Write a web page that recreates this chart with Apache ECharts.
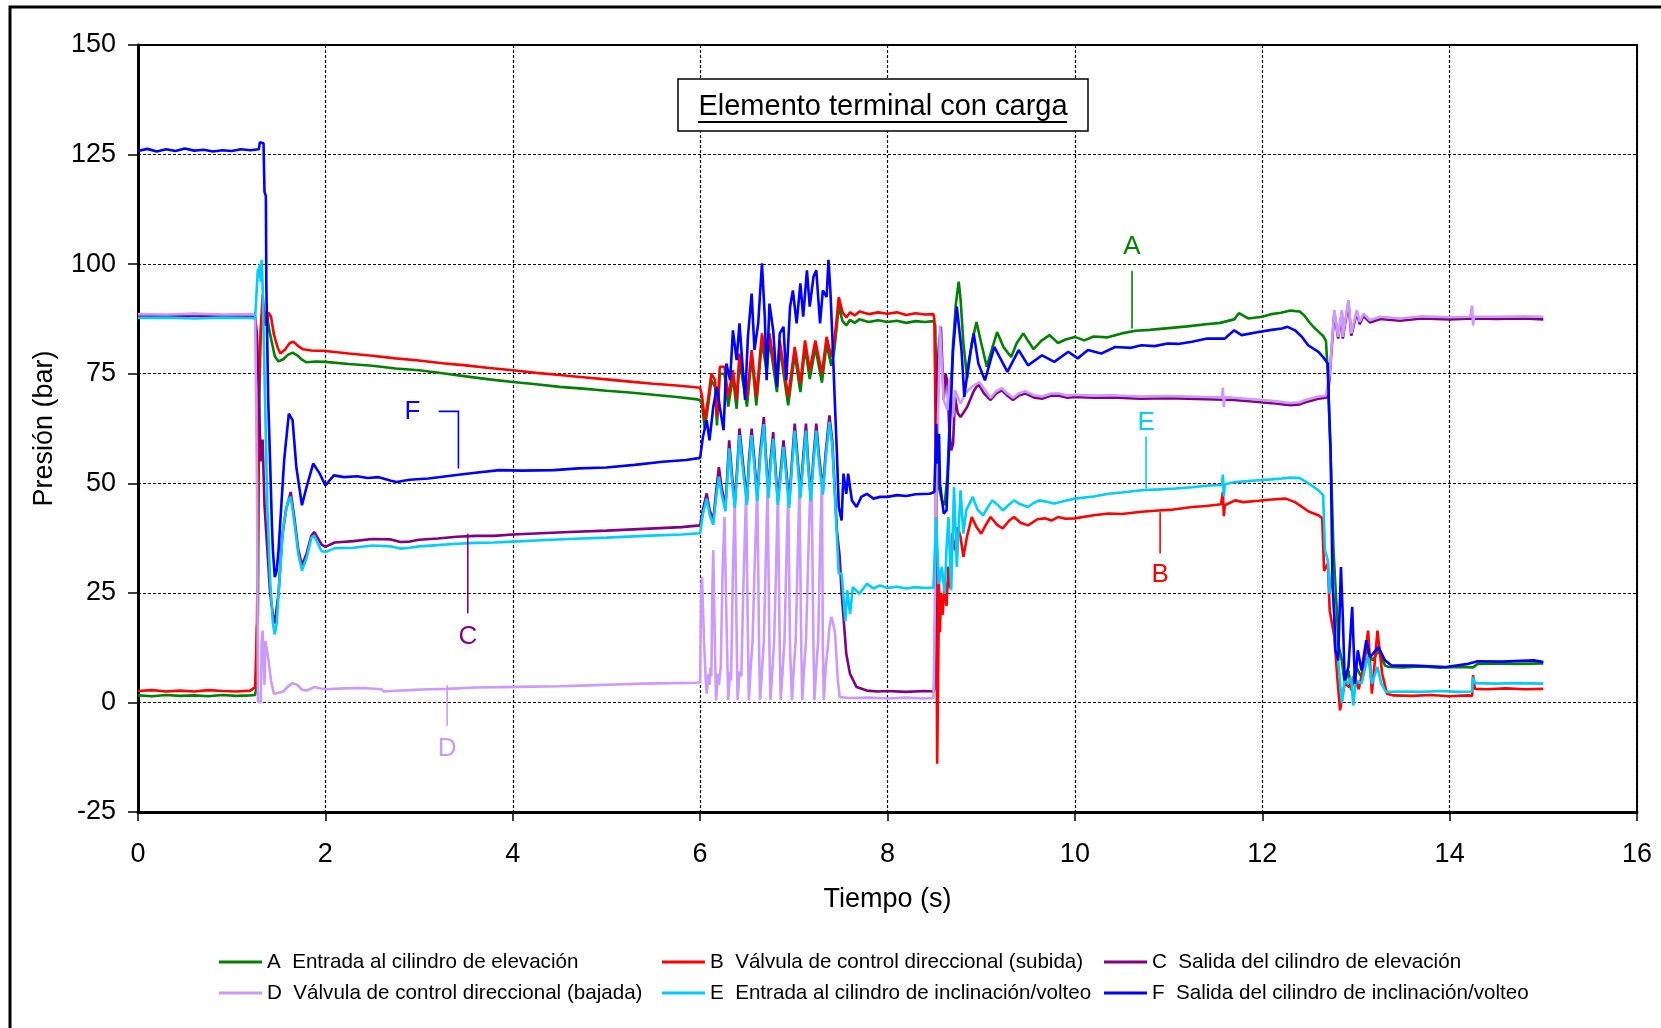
<!DOCTYPE html>
<html>
<head>
<meta charset="utf-8">
<script src="https://cdn.jsdelivr.net/npm/echarts@6/dist/echarts.min.js"></script>
<style>
  html, body { margin: 0; padding: 0; background: #fff; }
  #chart { width: 1661px; height: 1028px; }
</style>
</head>
<body>
<div id="chart"></div>
<script>
// Presión medida en seis puntos del circuito hidráulico, [tiempo (s), presión (bar)]
const serieNames = [
  'A  Entrada al cilindro de elevación',
  'B  Válvula de control direccional (subida)',
  'C  Salida del cilindro de elevación',
  'D  Válvula de control direccional (bajada)',
  'E  Entrada al cilindro de inclinación/volteo',
  'F  Salida del cilindro de inclinación/volteo'
];
const serieColors = ['#008000', '#ff0000', '#800080', '#cc99ff', '#00ccff', '#0000ff'];

const xTicks = { min: 0, max: 16, step: 2 };
const yTicks = { min: -25, max: 150, step: 25 };

const presionA = [
  [0,1.6],[0.15,1.4],[0.3,1.7],[0.45,1.5],[0.6,1.6],[0.75,1.4],[0.9,1.7],[1.05,1.5],[1.2,1.6],[1.25,1.7],
  [1.26,3],[1.27,17],[1.28,20],[1.29,60],[1.3,80],[1.32,88],[1.34,90],[1.36,86],[1.38,88],[1.4,85],[1.43,82],
  [1.46,79],[1.5,77.8],[1.55,78.3],[1.6,79.3],[1.65,79.8],[1.7,79.2],[1.75,78.2],[1.8,77.6],[1.9,77.8],[2.0,77.7],
  [2.25,77.2],[2.5,76.8],[2.75,76.2],[3.0,75.8],[3.25,75.1],[3.5,74.4],[3.75,73.7],[4.0,73.1],[4.25,72.6],[4.5,72.0],
  [4.75,71.6],[5.0,71.1],[5.25,70.7],[5.5,70.2],[5.75,69.7],[5.95,69.2],
  [6.0,69.0],[6.02,68],[6.05,62.5],[6.09,68.5],[6.12,73.5],[6.16,72],[6.18,63.2],[6.21,75],[6.26,75],[6.3,67.5],
  [6.35,74.3],[6.39,67],[6.42,78],[6.5,67.5],[6.55,79],[6.6,67.8],[6.66,82.5],[6.71,75.5],[6.74,82.8],[6.82,70.8],
  [6.85,81],[6.94,67.8],[7.01,79.5],[7.07,70.8],[7.12,81],[7.17,73.8],[7.23,81],[7.3,73],[7.35,81.8],[7.4,76.8],
  [7.43,80],[7.46,86],[7.48,90.5],[7.52,87],[7.56,86],[7.6,87.3],[7.65,86.6],[7.7,87.4],[7.8,86.8],[7.9,87.2],
  [8.0,86.8],[8.1,87.1],[8.2,86.6],[8.3,87],[8.4,86.8],[8.49,87],
  [8.51,86],[8.53,60],[8.55,49],[8.58,46],[8.61,45],[8.64,52],[8.67,68],[8.7,82],[8.73,91],[8.76,96],[8.78,92],
  [8.81,82],[8.85,74],[8.9,82],[8.95,86.8],[9.0,82],[9.06,76.6],[9.12,81],[9.17,84.5],[9.24,81],[9.32,78.8],
  [9.38,82],[9.45,84.2],[9.5,82.5],[9.56,80.6],[9.64,82.5],[9.73,83.8],[9.82,82],[9.9,82.8],[10.0,83.4],[10.1,82.6],
  [10.2,83.5],[10.35,83.3],[10.5,84.2],[10.65,84.8],[10.8,85.0],[11.0,85.4],[11.2,85.8],[11.4,86.3],[11.55,86.6],
  [11.7,87.4],[11.75,88.8],[11.85,87.6],[12.0,88.0],[12.1,88.6],[12.2,88.9],[12.3,89.4],[12.4,89.2],[12.45,88.3],
  [12.5,86.8],[12.55,85.6],[12.6,84.6],[12.65,83.6],[12.68,82.5],[12.7,75],[12.72,62],[12.74,50],[12.76,35],
  [12.78,27],[12.8,19.5],[12.81,13.5],[12.85,9.6],[12.88,4.3],[12.92,7.3],[12.95,2.7],[13.0,8.1],[13.06,5.8],
  [13.11,11.9],[13.18,9.6],[13.24,11.9],[13.31,8.4],[13.35,8.1],[13.5,8.0],[13.7,8.2],[13.9,7.9],[14.1,8.1],
  [14.25,8.0],[14.3,8.8],[14.5,8.9],[14.7,8.8],[15.0,8.9]
];

const presionB = [
  [0,2.6],[0.15,2.8],[0.3,2.5],[0.45,2.7],[0.6,2.5],[0.75,2.8],[0.9,2.6],[1.05,2.5],[1.2,2.7],[1.25,3.5],
  [1.26,10],[1.27,18],[1.28,40],[1.29,70],[1.3,75],[1.31,85],[1.33,93],[1.35,88],[1.37,86],[1.39,89],[1.42,88],
  [1.45,84],[1.49,81],[1.52,79.6],[1.57,80.5],[1.62,82],[1.66,82.3],[1.71,81.3],[1.76,80.6],[1.85,80.3],[2.0,80.2],
  [2.25,79.6],[2.5,79.1],[2.75,78.5],[3.0,78.0],[3.25,77.4],[3.5,76.9],[3.75,76.3],[4.0,75.8],[4.25,75.2],[4.5,74.7],
  [4.75,74.2],[5.0,73.7],[5.25,73.2],[5.5,72.7],[5.75,72.3],[5.95,71.9],
  [6.0,71.8],[6.02,70],[6.05,64.4],[6.09,70],[6.12,75],[6.16,73.5],[6.18,65.1],[6.21,76.6],[6.26,76.6],[6.3,69.7],
  [6.35,75.8],[6.39,69],[6.42,79.6],[6.5,69.7],[6.55,80.4],[6.6,69.7],[6.66,84.2],[6.71,77.3],[6.74,84.2],[6.82,72.8],
  [6.85,82.6],[6.94,69.7],[7.01,81.1],[7.07,72.8],[7.12,82.6],[7.17,75.8],[7.23,82.6],[7.3,75.0],[7.35,83.4],[7.4,78.8],
  [7.43,82],[7.46,88],[7.48,92.5],[7.52,89],[7.56,87.8],[7.6,89],[7.65,88.3],[7.7,89.2],[7.8,88.6],[7.9,89.0],
  [8.0,88.7],[8.1,89],[8.2,88.4],[8.3,88.8],[8.4,88.5],[8.49,88.6],
  [8.5,87.5],[8.51,70],[8.52,40],[8.53,-14],[8.54,5],[8.55,27],[8.56,16],[8.57,25],[8.59,20],[8.61,28],[8.63,22],
  [8.65,31],[8.67,26],[8.69,38.6],[8.72,34.7],[8.75,40],[8.78,37.7],[8.81,33.2],[8.85,38],[8.9,42.3],[8.95,40],
  [9.0,38.5],[9.05,40.5],[9.1,42.3],[9.17,40.5],[9.23,39.7],[9.3,41.5],[9.35,42.3],[9.42,41],[9.5,40.4],[9.6,41.8],
  [9.68,42],[9.75,41.5],[9.82,42.3],[9.9,41.9],[10.0,42],[10.2,42.7],[10.36,43.1],[10.5,43],[10.71,43.5],[10.89,43.8],
  [11.05,44],[11.25,44.6],[11.4,44.8],[11.56,45.2],[11.58,48],[11.59,42.5],[11.6,45],[11.71,46.1],[11.8,45.7],
  [11.96,46],[12.1,46.3],[12.25,46.5],[12.35,45.7],[12.5,43.5],[12.6,42.7],[12.64,42],[12.66,30],[12.7,31.7],
  [12.72,21],[12.77,14.9],[12.8,6],[12.83,-1.8],[12.88,4.3],[12.93,3.5],[12.98,6],[13.03,3],[13.08,8],[13.13,16.4],
  [13.17,2],[13.2,9],[13.23,16.4],[13.28,6.6],[13.33,2],[13.4,1.6],[13.6,1.5],[13.8,1.7],[14.0,1.4],[14.2,1.6],
  [14.24,1.5],[14.25,6.2],[14.27,3.1],[14.4,3.0],[14.6,3.2],[14.8,3.0],[15.0,3.1]
];

const presionC = [
  [0,88.3],[0.3,88.2],[0.6,88.3],[0.9,88.2],[1.2,88.3],[1.25,88],[1.27,84],[1.29,70],[1.31,55],[1.33,60],[1.35,45],
  [1.38,35],[1.41,25],[1.44,20],[1.46,18],[1.5,25],[1.54,38],[1.58,44],[1.63,48],[1.67,42],[1.71,35],[1.75,31.3],
  [1.8,34],[1.85,38],[1.88,38.9],[1.92,37.5],[1.96,36],[2.0,35.5],[2.1,36.5],[2.3,36.8],[2.5,37.3],[2.7,37.2],
  [2.8,36.6],[2.9,36.7],[3.0,37.1],[3.2,37.4],[3.4,37.8],[3.6,38],[3.8,38],[4.0,38.3],[4.3,38.6],[4.6,38.9],
  [5.0,39.2],[5.4,39.6],[5.8,40.0],
  [6.0,40.4],[6.03,44],[6.07,47.7],[6.1,44],[6.14,41.5],[6.17,48],[6.2,53.7],[6.23,49],[6.27,44.6],[6.29,52],
  [6.31,59.8],[6.34,52],[6.37,45.4],[6.4,55],[6.42,62.5],[6.46,54],[6.5,46.1],[6.52,55],[6.55,62.5],[6.58,55],
  [6.61,46.9],[6.64,57],[6.68,65.1],[6.7,57],[6.73,47.6],[6.75,55],[6.78,61.7],[6.8,55],[6.83,46.1],[6.86,53],
  [6.89,59.8],[6.92,53],[6.95,45.4],[6.98,55],[7.01,63.6],[7.04,56],[7.07,47.6],[7.1,56],[7.13,63.6],[7.15,56],
  [7.18,46.9],[7.21,56],[7.24,63.6],[7.27,56],[7.31,48.4],[7.34,57],[7.38,65.5],[7.41,59.8],[7.44,47.6],[7.46,39.3],
  [7.49,33.2],[7.51,25],[7.53,19.5],[7.56,11.1],[7.6,6.5],[7.67,3.5],[7.78,2.7],[7.9,2.5],[8.0,2.6],[8.2,2.4],
  [8.4,2.6],[8.49,2.5],
  [8.5,3],[8.51,20],[8.52,50],[8.53,74.3],[8.55,82],[8.57,85.7],[8.6,69],[8.62,75],[8.64,73.1],[8.66,62],[8.68,57.5],
  [8.7,59],[8.72,69.7],[8.75,66],[8.78,65.1],[8.85,67.4],[8.92,71],[8.97,72.7],[9.03,70.5],[9.1,69],[9.16,70.5],
  [9.22,71.2],[9.28,70],[9.34,69],[9.4,70],[9.47,70.5],[9.56,69.6],[9.65,69.3],[9.75,70],[9.83,70],[9.92,69.5],
  [10.0,69.7],[10.2,69.5],[10.4,69.6],[10.7,69.3],[11.0,69.4],[11.4,69.2],[11.7,69.0],[11.93,68.6],[12.1,68.3],
  [12.3,67.8],[12.4,68],[12.46,68.5],[12.6,69.3],[12.68,69.5],
  [12.7,70],[12.72,74.5],[12.74,80.5],[12.77,89],[12.81,83],[12.85,89],[12.86,83],[12.92,91.3],[12.95,83.7],
  [13.01,89],[13.04,86.3],[13.08,88.2],[13.15,86.7],[13.26,87.5],[13.47,87.1],[13.7,87.6],[14.0,87.4],[14.25,87.6],
  [14.5,87.5],[14.8,87.6],[15.0,87.4]
];

const presionD = [
  [0,88.6],[0.3,88.5],[0.6,88.7],[0.9,88.5],[1.2,88.6],[1.25,88.4],[1.26,88],[1.27,50],[1.28,0.2],[1.31,0],
  [1.32,14],[1.33,16.4],[1.34,10],[1.35,4],[1.36,14],[1.37,14.2],[1.39,10],[1.42,5],[1.45,2],[1.5,2.2],[1.55,2.5],
  [1.6,3.6],[1.65,4.4],[1.7,4],[1.75,2.9],[1.8,2.7],[1.88,3.5],[1.95,3.2],[2.0,3.0],[2.2,3.2],[2.4,3.3],[2.6,3.0],
  [2.62,2.5],[2.7,2.6],[2.9,2.8],[3.1,3.0],[3.3,3.1],[3.6,3.4],[3.9,3.5],[4.2,3.6],[4.5,3.7],[4.8,3.9],[5.1,4.1],
  [5.4,4.3],[5.7,4.4],[5.95,4.5],
  [6.0,4.6],[6.01,25],[6.02,28.6],[6.04,15],[6.06,5],[6.07,2],[6.09,6.5],[6.1,4],[6.11,8],[6.12,6],[6.13,25],
  [6.14,34.7],[6.16,10],[6.17,0.5],[6.19,6.5],[6.2,4],[6.22,8],[6.24,30],[6.26,42.3],[6.28,20],[6.3,0.5],[6.32,7],
  [6.33,5],[6.35,30],[6.37,46.1],[6.39,15],[6.4,0.5],[6.42,7],[6.44,6],[6.46,25],[6.49,47.6],[6.51,15],[6.52,0.5],
  [6.54,8],[6.56,14],[6.58,30],[6.61,49.2],[6.63,12],[6.64,0.5],[6.66,7],[6.68,14],[6.7,32],[6.72,49.2],[6.74,12],
  [6.75,0.5],[6.77,7],[6.79,14],[6.81,30],[6.83,48],[6.85,12],[6.86,0.5],[6.88,7],[6.9,14],[6.92,32],[6.94,47.6],
  [6.96,12],[6.98,0.5],[7.0,8],[7.02,14],[7.04,32],[7.06,49.2],[7.08,12],[7.09,0.5],[7.11,8],[7.13,14],[7.15,30],
  [7.17,45],[7.19,50.3],[7.21,12],[7.22,0.5],[7.24,8],[7.26,14],[7.28,35],[7.3,51.1],[7.31,12],[7.32,0.5],[7.34,8],
  [7.36,12],[7.38,17],[7.4,19.5],[7.42,18],[7.44,15.8],[7.47,5],[7.49,1.2],[7.6,1.0],[7.8,1.1],[8.0,0.9],[8.2,1.1],
  [8.4,0.9],[8.49,1.0],
  [8.5,11.9],[8.51,35],[8.52,50],[8.55,74],[8.56,86],[8.6,69],[8.64,66.7],[8.66,73.8],[8.7,65.1],[8.72,71.2],
  [8.78,68.2],[8.83,70.5],[8.9,72],[8.98,73.1],[9.05,71],[9.1,69.5],[9.16,71],[9.22,71.7],[9.28,70.5],[9.34,69.5],
  [9.4,70.5],[9.47,71],[9.56,70.1],[9.65,69.8],[9.75,70.5],[9.83,70.5],[9.92,70],[10.0,70.2],[10.2,70],[10.4,70.1],
  [10.7,69.8],[11.0,69.9],[11.4,69.7],[11.57,69.6],[11.58,71.8],[11.59,67.4],[11.6,69.7],[11.7,69.5],[11.93,69.1],
  [12.1,68.8],[12.3,68.3],[12.4,68.5],[12.46,69],[12.6,69.8],[12.68,70],
  [12.7,69.7],[12.72,75],[12.74,81.1],[12.77,89.5],[12.81,83.4],[12.85,89.5],[12.86,83.4],[12.92,91.8],[12.95,84.2],
  [13.01,89.5],[13.04,86.8],[13.08,88.7],[13.15,87.2],[13.26,88],[13.47,87.6],[13.7,88.1],[14.0,87.9],[14.22,88],
  [14.24,90.5],[14.25,86],[14.26,88],[14.5,88],[14.8,88.1],[15.0,88]
];

const presionE = [
  [0,87.7],[0.3,87.8],[0.6,87.6],[0.9,87.8],[1.2,87.7],[1.25,87.6],[1.27,88],[1.28,99],[1.29,97],[1.3,100],
  [1.31,96],[1.32,101],[1.33,95],[1.34,85],[1.36,65],[1.38,45],[1.41,28],[1.44,18],[1.46,15.5],[1.48,18],[1.51,28],
  [1.55,40],[1.6,46],[1.63,46.9],[1.67,41],[1.71,34],[1.75,30.1],[1.8,33],[1.85,37.5],[1.88,38.1],[1.92,36.3],
  [1.96,34.5],[2.0,34.3],[2.1,35.2],[2.3,35.3],[2.5,35.8],[2.7,35.6],[2.8,35.1],[2.9,35.3],[3.0,35.6],[3.2,35.9],
  [3.4,36.2],[3.6,36.4],[3.8,36.5],[4.0,36.7],[4.3,37.0],[4.6,37.3],[5.0,37.6],[5.4,38.0],[5.8,38.3],
  [6.0,38.6],[6.03,43],[6.07,46.5],[6.1,43],[6.14,40.5],[6.17,46.5],[6.2,51.5],[6.23,47.5],[6.27,43.6],[6.29,50.5],
  [6.31,58],[6.34,50.5],[6.37,44.4],[6.4,53.5],[6.42,61],[6.46,52.5],[6.5,45.1],[6.52,53.5],[6.55,61],[6.58,53.5],
  [6.61,45.9],[6.64,55.5],[6.68,63.5],[6.7,55.5],[6.73,46.6],[6.75,53.5],[6.78,60.2],[6.8,53.5],[6.83,45.1],
  [6.86,51.5],[6.89,58.3],[6.92,51.5],[6.95,44.4],[6.98,53.5],[7.01,62],[7.04,54.5],[7.07,46.6],[7.1,54.5],[7.13,62],
  [7.15,54.5],[7.18,45.9],[7.21,54.5],[7.24,62],[7.27,54.5],[7.31,47.4],[7.34,55.5],[7.38,64],[7.41,58.5],[7.44,46.5],
  [7.46,38],[7.48,29.4],[7.51,29.4],[7.53,24],[7.55,18.5],[7.57,25.6],[7.6,20.2],[7.63,26.3],[7.7,24.8],[7.78,27.1],
  [7.85,26],[7.92,26.7],[8.0,26.1],[8.1,26.4],[8.2,26],[8.3,26.3],[8.4,26.1],[8.49,26.2],
  [8.5,26.3],[8.52,42.3],[8.53,36.2],[8.55,27],[8.58,30.9],[8.61,24.8],[8.63,35],[8.65,42.3],[8.68,25.6],[8.71,49.2],
  [8.74,30.9],[8.78,48.4],[8.81,38.5],[8.84,43.8],[8.91,46.9],[8.96,44],[9.02,42.7],[9.07,44.5],[9.12,46.1],
  [9.18,45],[9.23,43.8],[9.29,45],[9.35,46.1],[9.42,45.2],[9.5,44.6],[9.56,45.5],[9.62,46.1],[9.7,45.8],[9.78,45.4],
  [9.9,46],[10.0,46.5],[10.2,47],[10.36,47.6],[10.5,47.9],[10.71,48.4],[10.9,48.6],[11.07,48.8],[11.25,49.1],
  [11.43,49.5],[11.57,49.6],[11.58,52],[11.59,47],[11.6,49.8],[11.71,50.3],[11.85,50.5],[11.96,50.7],[12.1,50.9],
  [12.21,51.1],[12.3,51.3],[12.4,51.2],[12.5,49.9],[12.6,48.4],[12.65,47.3],[12.67,34.7],[12.7,32.4],[12.72,24.8],
  [12.75,30.9],[12.78,11.9],[12.81,9.6],[12.85,-0.2],[12.88,5],[12.92,4.3],[12.95,5.8],[12.97,-0.7],[13.0,5],
  [13.06,4.3],[13.13,10.7],[13.17,4.3],[13.23,8.1],[13.27,4.3],[13.32,2.4],[13.5,2.5],[13.7,2.4],[13.9,2.6],
  [14.1,2.4],[14.24,2.5],[14.25,5.8],[14.27,4.4],[14.5,4.3],[14.7,4.4],[15.0,4.3]
];

const presionF = [
  [0,125.8],[0.1,126.3],[0.2,125.7],[0.3,126.2],[0.4,125.8],[0.5,126.4],[0.6,125.9],[0.7,126.1],[0.8,125.7],
  [0.9,126],[1.0,125.8],[1.1,126.2],[1.2,126],[1.29,126.2],[1.3,127.8],[1.34,127.6],[1.35,116.5],[1.365,115.5],
  [1.37,95],[1.39,69],[1.41,55],[1.43,40],[1.44,34.7],[1.46,28.6],[1.48,30],[1.5,34.7],[1.53,45],[1.56,55.3],
  [1.61,65.9],[1.65,64.4],[1.69,53.7],[1.75,45],[1.8,49.2],[1.87,54.5],[1.94,52.2],[2.0,49.5],[2.09,51.8],
  [2.2,51.4],[2.34,51.6],[2.45,51.2],[2.57,51.4],[2.7,50.6],[2.76,50.3],[2.9,50.8],[3.1,51.1],[3.25,51.5],
  [3.4,51.9],[3.6,52.4],[3.86,53],[4.1,52.9],[4.44,53],[4.7,53.4],[5.0,53.6],[5.3,54.2],[5.6,54.9],[5.85,55.3],
  [6.0,55.8],[6.02,56],[6.03,60.6],[6.07,64.4],[6.1,59.8],[6.14,67.4],[6.18,72],[6.21,67.4],[6.25,62.1],[6.28,77.3],
  [6.32,73.5],[6.35,84.9],[6.39,78.1],[6.42,86.5],[6.48,69],[6.51,83.4],[6.55,93.3],[6.58,80.4],[6.62,86.5],
  [6.66,100.2],[6.69,88],[6.71,73.5],[6.74,91],[6.78,84.9],[6.82,72],[6.85,84.2],[6.89,85.7],[6.92,73.5],[6.96,90.3],
  [6.99,94],[7.03,86.5],[7.07,95.6],[7.1,88],[7.14,98.6],[7.17,90.3],[7.21,97.1],[7.24,98.6],[7.28,86.5],[7.31,94],
  [7.35,92.5],[7.37,101],[7.39,94],[7.41,84.2],[7.44,67.4],[7.46,56.8],[7.48,44.6],[7.51,41.5],[7.53,52.2],
  [7.56,47.6],[7.58,52.2],[7.62,46.1],[7.67,44.6],[7.72,46.9],[7.78,47.6],[7.85,46.5],[7.92,46.9],[8.0,46.9],
  [8.1,47.3],[8.2,47.1],[8.3,47.5],[8.45,47.6],
  [8.5,48],[8.51,55],[8.52,63.6],[8.53,54.5],[8.55,61.3],[8.56,50],[8.6,43.1],[8.63,43.8],[8.67,65.1],[8.7,80.4],
  [8.74,90.3],[8.79,80.4],[8.82,69.7],[8.87,78.1],[8.92,84.2],[8.97,77.3],[9.04,73.5],[9.14,81.1],[9.28,75.4],
  [9.4,80.4],[9.5,76.9],[9.65,79.2],[9.78,77.7],[9.93,80],[10.03,78.5],[10.14,80.4],[10.28,79.6],[10.43,81.1],
  [10.6,80.9],[10.71,81.5],[10.85,81.3],[10.99,81.9],[11.1,81.8],[11.25,82.3],[11.4,83],[11.6,83],[11.7,84.9],
  [11.78,83.8],[11.96,84.5],[12.1,85],[12.21,85.3],[12.27,85.7],[12.35,84.9],[12.42,83.5],[12.49,81.5],[12.6,80],
  [12.65,78.8],[12.7,77.3],[12.71,69],[12.73,57.5],[12.74,42.3],[12.75,27.1],[12.77,19.5],[12.78,11.9],[12.81,9.6],
  [12.84,30.9],[12.86,19.5],[12.88,5],[12.92,8.1],[12.96,21.8],[12.99,4.3],[13.02,11.9],[13.06,7.3],[13.11,14.2],
  [13.15,10.3],[13.24,12.6],[13.31,9.6],[13.38,8.4],[13.62,8.4],[13.96,8.1],[14.2,8.8],[14.3,9.4],[14.55,9.3],
  [14.9,9.6],[15.0,9.2]
];

// Letras de identificación sobre las curvas: posición del texto y guía, en coordenadas de datos
const noteLetters = ['A', 'B', 'C', 'D', 'E', 'F'];
const noteText = [[10.61, 103.9], [10.91, 29.0], [3.52, 14.9], [3.30, -10.6], [10.76, 63.7], [2.93, 66.2]];
const noteGuide = [
  [[10.61, 98.5], [10.61, 85.3]],
  [[10.91, 43.4], [10.91, 34.0]],
  [[3.52, 38.5], [3.52, 20.3]],
  [[3.30, 3.9], [3.30, -5.3]],
  [[10.76, 60.6], [10.76, 48.8]],
  [[3.21, 66.4], [3.42, 66.4], [3.42, 53.4]]
];

const chartTitle = 'Elemento terminal con carga';
const xName = 'Tiempo (s)';
const yName = 'Presión (bar)';

const FONT = 'Arial, "Liberation Sans", Helvetica, sans-serif';
const seriesData = [presionA, presionB, presionC, presionD, presionE, presionF];

const chart = echarts.init(document.getElementById('chart'), null, { renderer: 'canvas' });

const legendPos = [[219, 950], [662, 950], [1104, 950], [219, 981], [662, 981], [1104, 981]];

const option = {
  animation: false,
  backgroundColor: '#fff',
  grid: {
    left: 138, top: 45, width: 1499, height: 767,
    show: true, borderColor: '#000', borderWidth: 2,
    outerBoundsMode: 'none', containLabel: false
  },
  xAxis: {
    type: 'value',
    min: xTicks.min, max: xTicks.max, interval: xTicks.step,
    name: xName, nameLocation: 'middle', nameGap: 74,
    nameTextStyle: { fontSize: 27, color: '#000', fontFamily: FONT },
    axisLine: { onZero: false, lineStyle: { color: '#000', width: 3 } },
    axisTick: { show: true, inside: false, length: 9, lineStyle: { color: '#000', width: 1.5 } },
    axisLabel: { margin: 29, fontSize: 27, color: '#000', fontFamily: FONT },
    splitLine: { show: true, lineStyle: { color: '#000', width: 1.2, type: [3, 2] } }
  },
  yAxis: {
    type: 'value',
    min: yTicks.min, max: yTicks.max, interval: yTicks.step,
    name: yName, nameLocation: 'middle', nameGap: 80, nameRotate: 90,
    nameTextStyle: { fontSize: 27, color: '#000', fontFamily: FONT },
    axisLine: { onZero: false, lineStyle: { color: '#000', width: 3 } },
    axisTick: { show: true, inside: false, length: 10, lineStyle: { color: '#000', width: 1.5 } },
    axisLabel: { margin: 22, fontSize: 27, color: '#000', fontFamily: FONT },
    splitLine: { show: true, lineStyle: { color: '#000', width: 1.2, type: [3, 2] } }
  },
  legend: serieNames.map((name, i) => ({
    data: [name],
    left: legendPos[i][0], top: legendPos[i][1],
    padding: 0, itemGap: 0,
    icon: 'rect', itemWidth: 43, itemHeight: 3,
    selectedMode: false,
    textStyle: { fontSize: 20.6, color: '#000', fontFamily: FONT, lineHeight: 24 }
  })),
  series: serieNames.map((name, i) => ({
    name,
    type: 'line',
    data: seriesData[i],
    color: serieColors[i],
    showSymbol: false,
    symbol: 'none',
    sampling: null,
    clip: true,
    lineStyle: { width: 2.6, color: serieColors[i] },
    emphasis: { disabled: true },
    z: 2 + i
  }))
};

chart.setOption(option);

// Marco del gráfico, cuadro del título y rótulos de las curvas
const px = p => chart.convertToPixel({ gridIndex: 0 }, p);
const graphics = [
  {
    type: 'rect', z: -10, silent: true,
    shape: { x: 10, y: 7, width: 1700, height: 1100 },
    style: { fill: null, stroke: '#000', lineWidth: 3 }
  },
  {
    type: 'rect', z: 50, silent: true,
    shape: { x: 678, y: 79, width: 410, height: 52 },
    style: { fill: '#fff', stroke: '#000', lineWidth: 1.5 }
  },
  {
    type: 'text', z: 51, silent: true,
    style: {
      text: chartTitle, x: 883, y: 107, fill: '#000',
      font: '29px ' + FONT,
      align: 'center', verticalAlign: 'middle',
      textAlign: 'center', textVerticalAlign: 'middle'
    }
  },
  {
    type: 'line', z: 51, silent: true,
    shape: { x1: 698, y1: 122, x2: 1067, y2: 122 },
    style: { stroke: '#000', lineWidth: 2 }
  }
];
noteLetters.forEach((letter, i) => {
  const color = serieColors[i];
  const t = px(noteText[i]);
  graphics.push({
    type: 'text', z: 40, silent: true,
    style: {
      text: letter, x: t[0], y: t[1], fill: color,
      font: '26px ' + FONT,
      align: 'center', verticalAlign: 'middle',
      textAlign: 'center', textVerticalAlign: 'middle'
    }
  });
  graphics.push({
    type: 'polyline', z: 40, silent: true,
    shape: { points: noteGuide[i].map(px) },
    style: { stroke: color, lineWidth: 1.6, fill: null }
  });
});
chart.setOption({ graphic: graphics });
</script>
</body>
</html>
